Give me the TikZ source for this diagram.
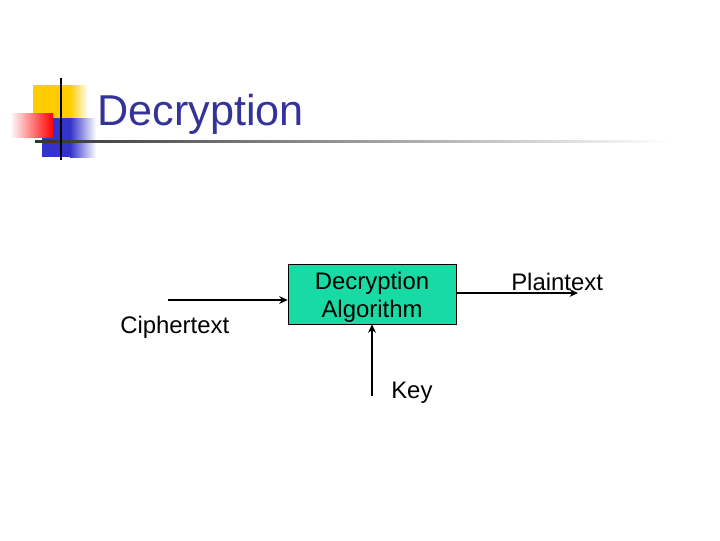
\documentclass[tikz,border=0pt]{standalone}
\usepackage{fontspec}
\setmainfont{Liberation Sans}
\usepackage{tikz}
\usetikzlibrary{positioning,arrows.meta,calc}
\definecolor{titleblue}{RGB}{51,51,153}
\definecolor{algogreen}{RGB}{24,218,164}
\definecolor{decoyellow}{RGB}{255,204,0}
\definecolor{decoblue}{RGB}{51,51,204}
\definecolor{decored}{RGB}{255,0,0}

\begin{document}
\begin{tikzpicture}[x=0.025cm, y=-0.025cm, >=Stealth,
    arr/.style={line width=1.3pt, -{Stealth[length=6pt,width=5.5pt]}},
    algobox/.style={draw=black, fill=algogreen, minimum width=4.2cm, minimum height=1.5cm,
        align=center, font=\fontsize{17}{19.8}\selectfont, inner sep=0pt},
    lbl/.style={font=\fontsize{17}{20}\selectfont, inner sep=0pt, anchor=base west}
]
    \useasboundingbox (0,0) rectangle (720,540);

    % Title decoration
    \fill[decoyellow] (33,85) rectangle (70,122);
    \shade[left color=decoyellow, right color=white] (70,85) rectangle (88,122);
    \fill[decoblue] (42,118) rectangle (70,157);
    \shade[left color=decoblue, right color=white] (70,118) rectangle (96,157);
    \shade[left color=white, right color=decored] (10,113) rectangle (53,137);
    \shade[left color=black!80, right color=white] (35,140) rectangle (670,142.5);
    \draw[line width=1.6pt] (61,78) -- (61,160);

    % Title
    \node[lbl, font=\fontsize{30.7}{36}\selectfont, text=titleblue] (title) at (97,125) {Decryption};

    % Algorithm box
    \node[algobox] (algo) at (372,294) {};
    \node[font=\fontsize{17}{19.8}\selectfont, align=center, inner sep=0pt] (algotext)
        at ([yshift=-2.2pt]algo.center) {Decryption\\Algorithm};

    % Inputs and output
    \coordinate (cin) at (168,300);
    \coordinate (kin) at (372,396);
    \coordinate (pout) at (578,293);
    \draw[arr] (cin) -- (cin -| algo.west);
    \draw[arr] (kin) -- (algo.south);
    \draw[arr] (algo.east |- pout) -- (pout);

    % Labels
    \node[lbl] (ctext) at (120,333) {Ciphertext};
    \node[lbl] (key) at (391,398) {Key};
    \node[lbl] (ptext) at (511,290) {Plaintext};

\end{tikzpicture}
\end{document}
